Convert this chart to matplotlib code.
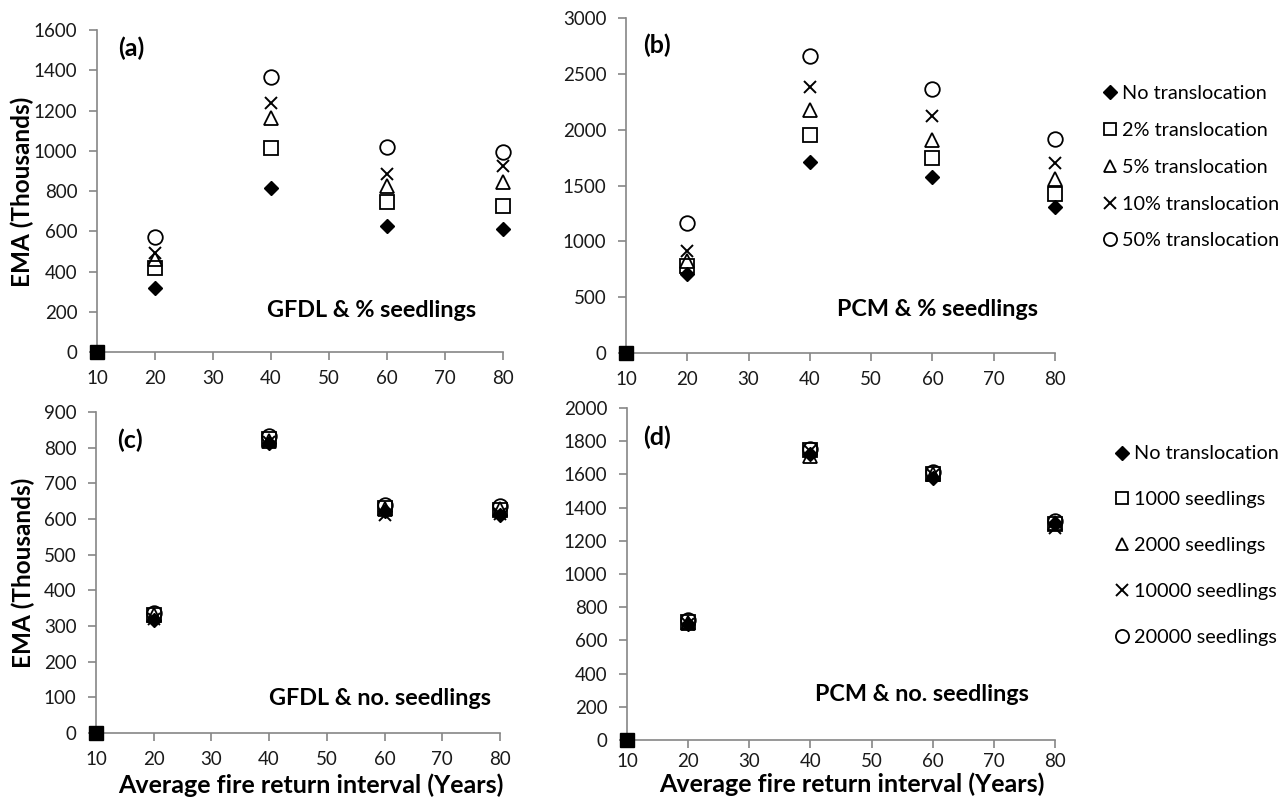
import matplotlib
matplotlib.use('Agg')
import matplotlib.pyplot as plt

# Fonts
plt.rcParams['font.family'] = ['Lato', 'DejaVu Sans']

# Data (EMA in thousands), fire return intervals
intervals = [20, 40, 60, 80]
origin_x = [10]
origin_y = [0]

# (a) GFDL & % seedlings
gfdl_pct_none = [320, 815, 625, 612]
gfdl_pct_2 = [417, 1013, 746, 727]
gfdl_pct_5 = [460, 1165, 825, 846]
gfdl_pct_10 = [490, 1237, 887, 925]
gfdl_pct_50 = [571, 1366, 1019, 993]

# (b) PCM & % seedlings
pcm_pct_none = [705, 1712, 1578, 1308]
pcm_pct_2 = [782, 1956, 1750, 1425]
pcm_pct_5 = [825, 2175, 1911, 1560]
pcm_pct_10 = [915, 2380, 2125, 1705]
pcm_pct_50 = [1160, 2662, 2365, 1920]

# (c) GFDL & no. seedlings
gfdl_no_none = [318, 812, 623, 612]
gfdl_no_1000 = [330, 825, 630, 625]
gfdl_no_2000 = [330, 820, 628, 628]
gfdl_no_10000 = [320, 815, 612, 615]
gfdl_no_20000 = [337, 833, 640, 637]

# (d) PCM & no. seedlings
pcm_no_none = [700, 1722, 1580, 1305]
pcm_no_1000 = [710, 1748, 1600, 1300]
pcm_no_2000 = [705, 1712, 1600, 1310]
pcm_no_10000 = [700, 1740, 1595, 1275]
pcm_no_20000 = [725, 1752, 1615, 1322]

pct_labels = ['No translocation', '2% translocation', '5% translocation',
              '10% translocation', '50% translocation']
no_labels = ['No translocation', '1000 seedlings', '2000 seedlings',
             '10000 seedlings', '20000 seedlings']

# Marker styles per series
marker_kws = [
    {'marker': 'D', 'ms': 7.5, 'mfc': 'black', 'mec': 'black'},
    {'marker': 's', 'ms': 9.5, 'mfc': 'none', 'mec': 'black', 'mew': 1.3},
    {'marker': '^', 'ms': 9.5, 'mfc': 'none', 'mec': 'black', 'mew': 1.3},
    {'marker': 'x', 'ms': 9, 'mfc': 'none', 'mec': 'black', 'mew': 1.4},
    {'marker': 'o', 'ms': 10.5, 'mfc': 'none', 'mec': 'black', 'mew': 1.3},
]

axis_color = '#868686'
tick_font = 13.5
caption_font = 16.8


def style_axis(ax, ymax, ystep, xpad=7):
    ax.set_xlim(10, 80)
    ax.set_ylim(0, ymax)
    ax.set_xticks(range(10, 81, 10))
    ax.set_yticks(range(0, ymax + 1, ystep))
    for side in ['top', 'right']:
        ax.spines[side].set_visible(False)
    for side in ['left', 'bottom']:
        ax.spines[side].set_color(axis_color)
        ax.spines[side].set_linewidth(1.2)
    ax.tick_params(direction='out', color=axis_color, length=6, width=1.2,
                   labelsize=tick_font, labelcolor='#1a1a1a')
    ax.tick_params(axis='y', pad=8)
    ax.tick_params(axis='x', pad=xpad)


def draw_panel(ax, series, labels):
    handles = []
    for vals, kws, lab in zip(series, marker_kws, labels):
        h, = ax.plot(intervals, vals, ls='none', clip_on=False, label=lab,
                     **kws)
        handles.append(h)
    ax.plot(origin_x, origin_y, ls='none', marker='s', ms=10, mfc='black',
            mec='black', clip_on=False, zorder=5)
    return handles


fig = plt.figure(figsize=(12.88, 8.05), dpi=100)

ax_a = fig.add_axes([0.0753, 0.5627, 0.3152, 0.4000])
ax_b = fig.add_axes([0.4860, 0.5615, 0.3331, 0.4161])
ax_c = fig.add_axes([0.0745, 0.0894, 0.3137, 0.3988])
ax_d = fig.add_axes([0.4868, 0.0807, 0.3323, 0.4124])

draw_panel(ax_a, [gfdl_pct_none, gfdl_pct_2, gfdl_pct_5, gfdl_pct_10,
                  gfdl_pct_50], pct_labels)
hb = draw_panel(ax_b, [pcm_pct_none, pcm_pct_2, pcm_pct_5, pcm_pct_10,
                       pcm_pct_50], pct_labels)
draw_panel(ax_c, [gfdl_no_none, gfdl_no_1000, gfdl_no_2000, gfdl_no_10000,
                  gfdl_no_20000], no_labels)
hd = draw_panel(ax_d, [pcm_no_none, pcm_no_1000, pcm_no_2000, pcm_no_10000,
                       pcm_no_20000], no_labels)

style_axis(ax_a, 1600, 200)
style_axis(ax_b, 3000, 500)
style_axis(ax_c, 900, 100)
style_axis(ax_d, 2000, 200, xpad=3)

# Panel letters and captions
panel_text = [
    (ax_a, 0.052, 0.944, '(a)', 0.677, 0.130, 'GFDL & % seedlings'),
    (ax_b, 0.040, 0.919, '(b)', 0.725, 0.131, 'PCM & % seedlings'),
    (ax_c, 0.052, 0.913, '(c)', 0.703, 0.109, 'GFDL & no. seedlings'),
    (ax_d, 0.037, 0.913, '(d)', 0.689, 0.136, 'PCM & no. seedlings'),
]
for ax, lx, ly, letter, cx, cy, caption in panel_text:
    ax.text(lx, ly, letter, transform=ax.transAxes, fontsize=18,
            fontweight='bold', ha='left', va='center')
    ax.text(cx, cy, caption, transform=ax.transAxes, fontsize=caption_font,
            fontweight='bold', ha='center', va='center')

# Axis labels
ax_a.set_ylabel('EMA (Thousands)', fontsize=17.5, fontweight='bold')
ax_a.yaxis.set_label_coords(-0.155, 0.497)
ax_c.set_ylabel('EMA (Thousands)', fontsize=17.5, fontweight='bold')
ax_c.yaxis.set_label_coords(-0.150, 0.498)
ax_c.set_xlabel('Average fire return interval (Years)', fontsize=18,
                fontweight='bold')
ax_c.xaxis.set_label_coords(0.532, -0.125)
ax_d.set_xlabel('Average fire return interval (Years)', fontsize=18,
                fontweight='bold')
ax_d.xaxis.set_label_coords(0.526, -0.099)

# Legends
leg_kws = {'frameon': False, 'fontsize': 14.3, 'handletextpad': 0.1,
           'handlelength': 1.0, 'borderaxespad': 0, 'numpoints': 1,
           'markerscale': 0.9}
fig.legend(handles=hb, labels=pct_labels, loc='upper left',
           bbox_to_anchor=(0.8478, 0.9043), labelspacing=1.0, **leg_kws)
fig.legend(handles=hd, labels=no_labels, loc='upper left',
           bbox_to_anchor=(0.8571, 0.4565), labelspacing=1.45, **leg_kws)

fig.savefig('out.png', dpi=100)
